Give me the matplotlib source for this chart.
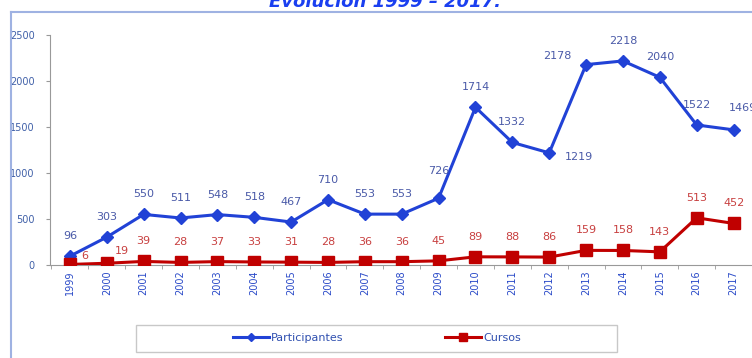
import matplotlib.pyplot as plt
from matplotlib.patches import Rectangle
from matplotlib.lines import Line2D

years = [str(y) for y in range(1999, 2018)]
participantes = [96, 303, 550, 511, 548, 518, 467, 710, 553, 553, 726,
                 1714, 1332, 1219, 2178, 2218, 2040, 1522, 1469]
cursos = [6, 19, 39, 28, 37, 33, 31, 28, 36, 36, 45,
          89, 88, 86, 159, 158, 143, 513, 452]

blue = '#2142d6'
red = '#c00000'

fig = plt.figure(figsize=(7.52, 3.58), dpi=100)
ax = fig.add_axes([50 / 752, 1 - 265 / 358, 702 / 752, 230 / 358])

x = list(range(len(years)))
ax.plot(x, participantes, color=blue, lw=2.2, marker='D', ms=6, zorder=3,
        label='Participantes')
ax.plot(x, cursos, color=red, lw=2.2, marker='s', ms=8, zorder=4,
        label='Cursos')

ax.set_xlim(-0.54, 18.38)
ax.set_ylim(0, 2500)
ax.set_yticks([0, 500, 1000, 1500, 2000, 2500])
ax.set_xticks(x)
ax.set_xticklabels(years, rotation=90, fontsize=7, color='#2a4ac8')
ax.set_xticks([i + 0.5 for i in range(-1, 19)], minor=True)
ax.tick_params(axis='x', which='major', length=0, pad=4)
ax.tick_params(axis='x', which='minor', length=3, color='#999999')
ax.tick_params(axis='y', length=3, color='#999999', labelsize=7,
               labelcolor='#4060a8', pad=8)
for s in ['top', 'right']:
    ax.spines[s].set_visible(False)
for s in ['left', 'bottom']:
    ax.spines[s].set_color('#999999')
ax.patch.set_alpha(0)

# data labels, default 20 px above the point
p_off = {11 - 0: (0, 20), 13: (30, -4), 14: (-29, 9), 10: (0, 27), 18: (9, 22)}
c_off = {0: (15, 8), 1: (15, 12)}
for i, v in enumerate(participantes):
    dx, dy = p_off.get(i, (0, 20))
    ax.annotate(str(v), (i, v), xytext=(dx, dy), textcoords='offset pixels',
                ha='center', va='center', fontsize=8, color='#4a5aa8',
                annotation_clip=False)
for i, v in enumerate(cursos):
    dx, dy = c_off.get(i, (0, 20))
    ax.annotate(str(v), (i, v), xytext=(dx, dy), textcoords='offset pixels',
                ha='center', va='center', fontsize=8, color='#c84040',
                annotation_clip=False)

fig.text(385 / 752, 1 - 7 / 358, 'Evolución 1999 – 2017.', ha='center',
         va='baseline', fontsize=13, fontweight='bold', fontstyle='italic',
         color='#1a3ff0')

# outer frame of the screenshot
fig.add_artist(Line2D([11 / 752, 1], [1 - 12 / 358] * 2, color='#9fb2e2', lw=1.5))
fig.add_artist(Line2D([11 / 752] * 2, [0, 1 - 12 / 358], color='#9fb2e2', lw=1.5))

fig.add_artist(Rectangle((136 / 752, 1 - 352 / 358), 481 / 752, 27 / 358,
                         transform=fig.transFigure, fill=False,
                         edgecolor='#c8c8c8', lw=1))
fig.legend(loc='center', bbox_to_anchor=(377 / 752, 1 - 338 / 358), ncol=2,
           frameon=False, fontsize=8, labelcolor='#3050b0', handlelength=3.2,
           columnspacing=9.2, handletextpad=0.2, markerscale=0.7)

fig.savefig('out.png', dpi=100)
